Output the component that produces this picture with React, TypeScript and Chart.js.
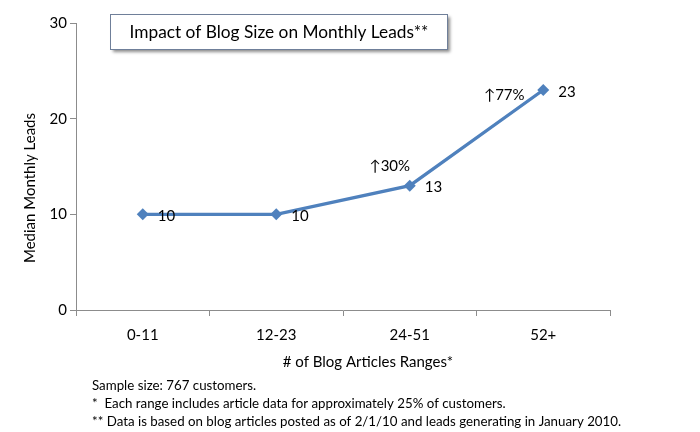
import React, { useEffect, useRef } from 'react';
import { Chart, registerables } from 'chart.js';

Chart.register(...registerables);

const categories = ['0-11', '12-23', '24-51', '52+'];
const leads = [10, 10, 13, 23];
const growthLabels = ['', '', '↑30%', '↑77%'];
const yTicks = [0, 10, 20, 30];

const chartTitle = 'Impact of Blog Size on Monthly Leads**';
const xTitle = '# of Blog Articles Ranges*';
const yTitle = 'Median Monthly Leads';
const footnotes = [
  'Sample size: 767 customers.',
  '*  Each range includes article data for approximately 25% of customers.',
  '** Data is based on blog articles posted as of 2/1/10 and leads generating in January 2010.',
];

const FONT = 'Lato, "Open Sans", "Noto Sans", sans-serif';
const LINE = '#4f81bd';
const AXIS = '#8c8c8c';

// where the growth notes sit relative to their point
const growthOffsets = [null, null, { dx: -20, dy: -19 }, { dx: -39, dy: 5 }];

const extrasPlugin = {
  id: 'extras',
  afterDraw(chart) {
    const { ctx } = chart;
    ctx.save();

    // title box with shadow
    ctx.shadowColor = 'rgba(0,0,0,0.45)';
    ctx.shadowOffsetX = 3;
    ctx.shadowOffsetY = 3;
    ctx.shadowBlur = 3;
    ctx.fillStyle = '#fff';
    ctx.fillRect(110, 14, 337, 35);
    ctx.shadowColor = 'transparent';
    ctx.strokeStyle = '#6f7f99';
    ctx.lineWidth = 1;
    ctx.strokeRect(110.5, 14.5, 337, 35);
    ctx.fillStyle = '#000';
    ctx.font = `17.3px ${FONT}`;
    ctx.textAlign = 'center';
    ctx.textBaseline = 'middle';
    ctx.fillText(chartTitle, 279, 32, 300);

    // axis titles
    ctx.font = `15px ${FONT}`;
    ctx.fillText(xTitle, 368, 362, 176);
    ctx.save();
    ctx.translate(30, 188);
    ctx.rotate(-Math.PI / 2);
    ctx.fillText(yTitle, 0, 0, 162);
    ctx.restore();

    // footnotes
    ctx.font = `13.3px ${FONT}`;
    ctx.textAlign = 'left';
    footnotes.forEach((t, i) => ctx.fillText(t, 92, 386 + i * 18, 530));

    // value labels and growth notes
    const meta = chart.getDatasetMeta(0);
    ctx.font = `15px ${FONT}`;
    meta.data.forEach((pt, i) => {
      ctx.textAlign = 'left';
      ctx.fillText(String(leads[i]), pt.x + 15, pt.y + 2);
      const off = growthOffsets[i];
      if (growthLabels[i] && off) {
        ctx.textAlign = 'center';
        ctx.fillText(growthLabels[i], pt.x + off.dx, pt.y + off.dy);
      }
    });
    ctx.restore();
  },
};

export default function App() {
  const canvasRef = useRef<HTMLCanvasElement>(null);

  useEffect(() => {
    document.body.style.margin = '0';
    const chart = new Chart(canvasRef.current, {
      type: 'line',
      data: {
        labels: categories,
        datasets: [
          {
            data: leads,
            borderColor: LINE,
            backgroundColor: LINE,
            borderWidth: 3.3,
            pointStyle: 'rectRot',
            pointRadius: 6,
            pointBorderWidth: 0,
            tension: 0,
          },
        ],
      },
      options: {
        responsive: false,
        animation: false,
        events: [],
        layout: { padding: { top: 23, right: 90, left: 0, bottom: 0 } },
        plugins: { legend: { display: false }, tooltip: { enabled: false } },
        scales: {
          x: {
            offset: true,
            afterFit: (s) => {
              s.height = 122;
            },
            border: { color: AXIS, width: 1 },
            grid: { offset: true, drawOnChartArea: false, drawTicks: true, tickLength: 6, color: AXIS },
            ticks: { color: '#000', font: { family: FONT, size: 15 }, padding: 10, maxRotation: 0 },
          },
          y: {
            min: yTicks[0],
            max: yTicks[yTicks.length - 1],
            afterFit: (s) => {
              s.width = 76;
            },
            afterBuildTicks: (s) => {
              s.ticks = yTicks.map((v) => ({ value: v }));
            },
            border: { color: AXIS, width: 1 },
            grid: { drawOnChartArea: false, drawTicks: true, tickLength: 6, color: AXIS },
            ticks: { color: '#000', font: { family: FONT, size: 15 }, padding: 3 },
          },
        },
      },
      plugins: [extrasPlugin],
    });
    return () => chart.destroy();
  }, []);

  return <canvas ref={canvasRef} width={700} height={432} style={{ display: 'block' }} />;
}
